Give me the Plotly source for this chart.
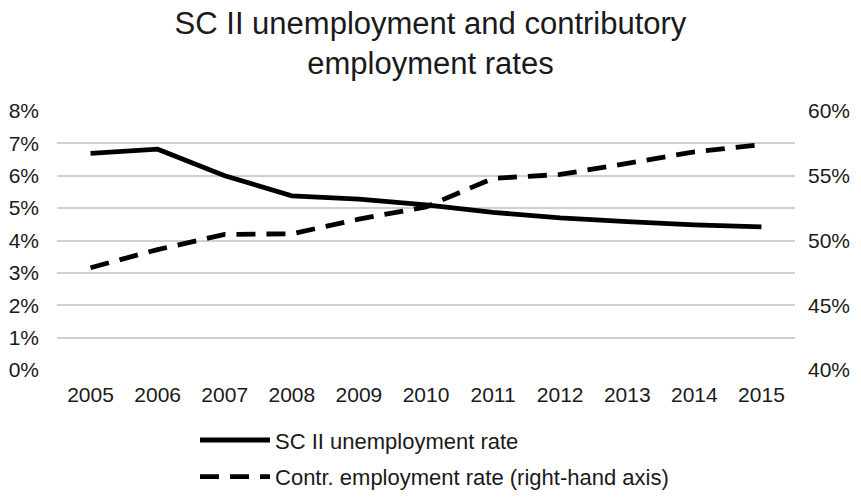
import plotly.graph_objects as go

years = ["2005", "2006", "2007", "2008", "2009", "2010", "2011", "2012", "2013", "2014", "2015"]
unemployment = [6.69, 6.82, 6.0, 5.38, 5.28, 5.1, 4.87, 4.70, 4.58, 4.48, 4.42]
contr_employment = [47.9, 49.3, 50.47, 50.52, 51.65, 52.6, 54.8, 55.1, 55.95, 56.85, 57.4]

left_ticks = [0, 1, 2, 3, 4, 5, 6, 7, 8]
right_ticks = [40, 45, 50, 55, 60]

fig = go.Figure()
fig.add_trace(go.Scatter(
    x=years, y=unemployment, mode="lines", name="SC II unemployment rate",
    line=dict(color="black", width=4.8), legendgroup="a"))
fig.add_trace(go.Scatter(
    x=years, y=contr_employment, mode="lines", name="Contr. employment rate (right-hand axis)",
    line=dict(color="black", width=4.8, dash="19px,11px"), yaxis="y2", legendgroup="b"))

font_family = "Liberation Sans, Arial, sans-serif"
text_color = "#1a1a1a"
fig.update_layout(
    width=861, height=498,
    paper_bgcolor="white", plot_bgcolor="white",
    margin=dict(l=57, r=66, t=111, b=128, autoexpand=False),
    title=dict(text="SC II unemployment and contributory<br>employment rates",
               x=0.5, xanchor="center", y=0.932, yanchor="top",
               font=dict(family=font_family, size=31, color=text_color)),
    font=dict(family=font_family, color=text_color),
    xaxis=dict(type="category", range=[-0.5, 10.5], showgrid=False, showline=False,
               ticks="", tickfont=dict(size=21), zeroline=False, ticklabelstandoff=10,
               automargin=False),
    yaxis=dict(range=[0, 8], tickvals=left_ticks, ticktext=[f"{v}%" for v in left_ticks],
               showgrid=True, gridcolor="#d0d0d0", gridwidth=1.5, zeroline=False,
               tickfont=dict(size=21), ticks="", ticklabelstandoff=17, automargin=False),
    yaxis2=dict(range=[40, 60], overlaying="y", side="right",
                tickvals=right_ticks, ticktext=[f"{v}%" for v in right_ticks],
                showgrid=False, zeroline=False, tickfont=dict(size=21), ticks="",
                ticklabelstandoff=12, automargin=False),
    legend=dict(orientation="v", x=0.187, xanchor="left", y=-0.19, yanchor="top",
                font=dict(size=22), tracegroupgap=5, itemwidth=70,
                bgcolor="rgba(0,0,0,0)"),
    showlegend=True,
)

fig.write_html("out.html", config={"displayModeBar": False},
               post_script="document.body.style.margin='0';")
